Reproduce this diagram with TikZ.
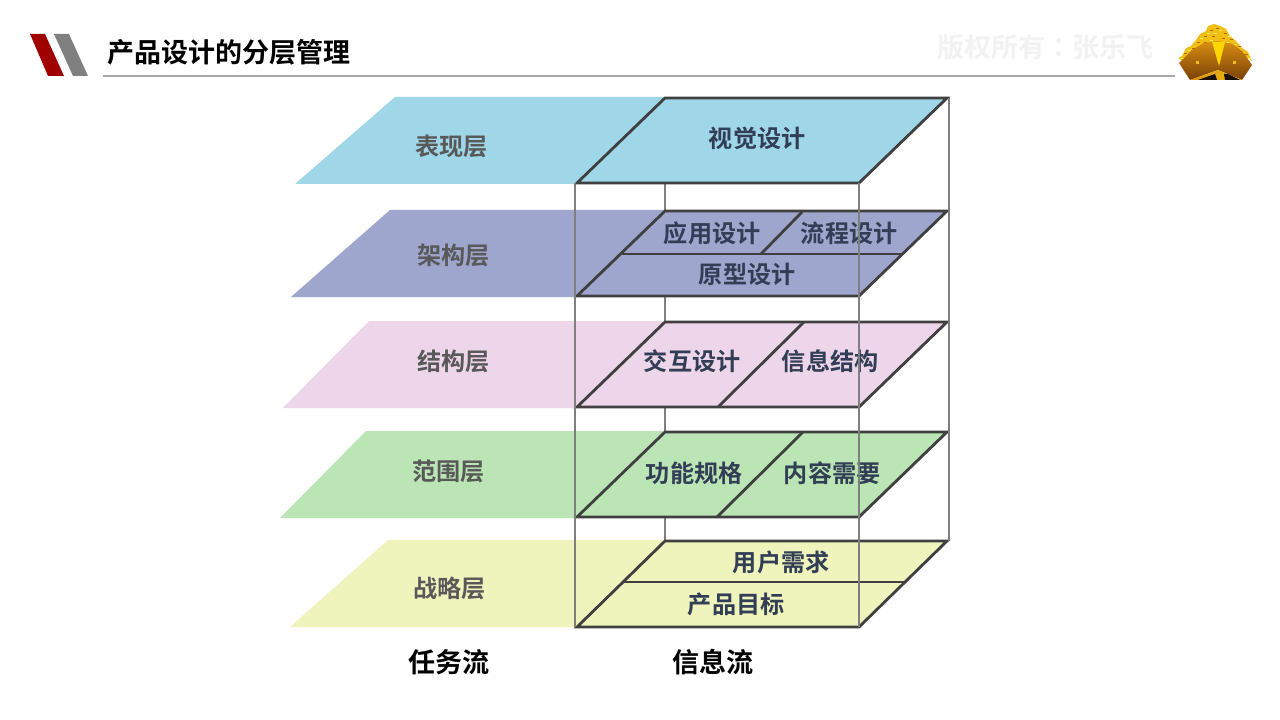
\documentclass[tikz,border=0pt]{standalone}
\usepackage{fontspec}
\setmainfont{Noto Sans CJK SC}[BoldFont={* Bold}]
\newfontfamily\cjkbold{Noto Sans CJK SC Bold}
\newfontfamily\cjktc{Noto Sans CJK TC Bold}
\definecolor{lblue}{HTML}{9FD6E8}
\definecolor{lpurple}{HTML}{9EA6CD}
\definecolor{lpink}{HTML}{EDD6E9}
\definecolor{lgreen}{HTML}{BBE5B5}
\definecolor{lyellow}{HTML}{EFF4BD}
\definecolor{edgedark}{HTML}{404040}
\definecolor{edgegray}{HTML}{7F7F7F}
\definecolor{lefttext}{HTML}{595959}
\definecolor{righttext}{HTML}{323E55}
\definecolor{heapgold}{HTML}{F0BE14}
\definecolor{heapdark}{HTML}{B06A10}
\definecolor{heappale}{HTML}{FFF060}
\definecolor{brownd}{HTML}{7A4006}
\definecolor{brownl}{HTML}{D98E12}
\tikzset{
  x=0.75pt,y=-0.75pt,
  plate/.style={draw=edgedark,line width=2.1pt,line join=miter},
  inner/.style={draw=edgedark,line width=2.1pt},
  post/.style={draw=edgegray,line width=1.3pt},
  leftlabel/.style={font=\cjkbold\fontsize{18.1}{18}\selectfont,text=lefttext,inner sep=0pt},
  rightlabel/.style={font=\cjkbold\fontsize{18.1}{18}\selectfont,text=righttext,inner sep=0pt},
  footlabel/.style={font=\cjkbold\fontsize{20.3}{20}\selectfont,text=black,inner sep=0pt},
}
\begin{document}
\begin{tikzpicture}
\useasboundingbox (0,0) rectangle (1280,720);
\fill[white] (0,0) rectangle (1280,720);
% header
\fill[fill={rgb,255:red,160;green,0;blue,0}] (30,34)--(45,34)--(64,76)--(48,76)--cycle;
\fill[fill=gray] (54,34)--(69,34)--(88,76)--(73,76)--cycle;
\node[font=\cjkbold\fontsize{20.25}{20}\selectfont,anchor=west,inner sep=0pt] (title) at (107,52) {产品设计的分层管理};
\node[font=\cjkbold\fontsize{20.25}{20}\selectfont,text={rgb,255:red,242;green,242;blue,242},anchor=west,inner sep=0pt] (mark) at (937,47.5) {版权所有{\cjktc ：}张乐飞};
\coordinate (rulea) at (103,76); \coordinate (ruleb) at (1175,76);
\draw[draw={rgb,255:red,166;green,166;blue,166},line width=0.9pt] (rulea)--(ruleb);
% icon: heap
\fill[heapgold] (1178,58)--(1182,56)--(1186,48)--(1191,46)--(1196,40)--(1200,34)--(1206,31)--(1208,26)--(1214,24)--(1220,26)--(1226,29)--(1230,36)--(1236,41)--(1242,48)--(1248,52)--(1252,61)--(1236,50)--(1218,44)--(1200,46)--(1184,62)--cycle;
\foreach \a/\b in {1184/53,1192/48,1197/42,1204/36,1210/30,1216/28,1224/33,1230/39,1238/46,1245/54,1212/36,1222/38,1204/42,1190/52}
  {\fill[heapdark] (\a,\b) rectangle +(3,1.5);}
\foreach \a/\b in {1181/58,1188/50,1200/38,1207/33,1214/33,1219/30,1228/36,1233/44,1241/52,1248/58,1210/40,1226/42}
  {\fill[heappale] (\a,\b) rectangle +(3,1.5);}
% icon: hull
\shade[top color=brownl,bottom color=brownd] (1179,63)--(1192,50)--(1204,43)--(1218,41)--(1218,70)--(1190,80)--cycle;
\shade[top color=brownl,bottom color=brownd] (1218,41)--(1233,44)--(1243,52)--(1252,65)--(1242,80)--(1218,70)--cycle;
\fill[fill={rgb,255:red,255;green,215;blue,0}] (1212,42)--(1225,42)--(1219,66)--cycle;
\shade[left color=brownl,right color=heapgold] (1190,80)--(1218,70)--(1242,80)--cycle;
\fill[fill={rgb,255:red,25;green,15;blue,5}] (1198,80)--(1215,74)--(1217,80)--cycle;
\fill[fill={rgb,255:red,25;green,15;blue,5}] (1224,74)--(1228,74)--(1240,80)--(1225,80)--cycle;
\fill[heapgold] (1196,61) rectangle +(3,3);
\fill[heapgold] (1233,61) rectangle +(3,3);
% back post
\coordinate (ba) at (665,183); \coordinate (bb) at (665,541);
\draw[post] (ba)--(bb);
% left bands
\fill[lblue]   (395,97)--(665,97)--(577,184)--(295,184)--cycle;
\fill[lpurple] (390,210)--(665,210)--(577,297)--(291,297)--cycle;
\fill[lpink]   (369,321)--(665,321)--(577,408)--(283,408)--cycle;
\fill[lgreen]  (366,431)--(665,431)--(577,518)--(280,518)--cycle;
\fill[lyellow] (388,540)--(665,540)--(577,627)--(290,627)--cycle;
% right plates
\draw[plate,fill=lblue]   (665,98)--(947,98)--(859,183)--(577,183)--cycle;
\draw[plate,fill=lpurple] (665,211)--(947,211)--(859,296)--(577,296)--cycle;
\draw[plate,fill=lpink]   (665,322)--(947,322)--(859,407)--(577,407)--cycle;
\draw[plate,fill=lgreen]  (665,432)--(947,432)--(859,517)--(577,517)--cycle;
\draw[plate,fill=lyellow] (665,541)--(947,541)--(859,627)--(577,627)--cycle;
% inner divisions
\draw[inner] (622,254)--(903,254);
\draw[inner] (802,212)--(761,254);
\draw[inner] (804,322)--(718,407);
\draw[inner] (803,432)--(717,517);
\draw[inner] (622,582)--(904,582);
% labels
\node[leftlabel] (l1) at (451.3,146.3) {表现层};
\node[leftlabel] (l2) at (453.3,255.3) {架构层};
\node[leftlabel] (l3) at (453.3,361.3) {结构层};
\node[leftlabel] (l4) at (448.3,471.3) {范围层};
\node[leftlabel] (l5) at (449.3,588.3) {战略层};
\node[rightlabel] (r1) at (757.2,138) {视觉设计};
\node[rightlabel] (r2) at (712.2,233.5) {应用设计};
\node[rightlabel] (r3) at (849.2,233.5) {流程设计};
\node[rightlabel] (r4) at (747.2,274) {原型设计};
\node[rightlabel] (r5) at (692.2,361) {交互设计};
\node[rightlabel] (r6) at (830.2,361) {信息结构};
\node[rightlabel] (r7) at (694.2,473) {功能规格};
\node[rightlabel] (r8) at (832.2,473) {内容需要};
\node[rightlabel] (r9) at (781.2,562) {用户需求};
\node[rightlabel] (r10) at (736.2,604) {产品目标};
\node[footlabel] (f1) at (448.7,662.5) {任务流};
\node[footlabel] (f2) at (712.7,662.5) {信息流};
% front posts
\draw[post] (575,183)--(575,627);
\draw[post] (859,183)--(859,627);
\draw[post] (949,98)--(949,541);
\end{tikzpicture}
\end{document}
